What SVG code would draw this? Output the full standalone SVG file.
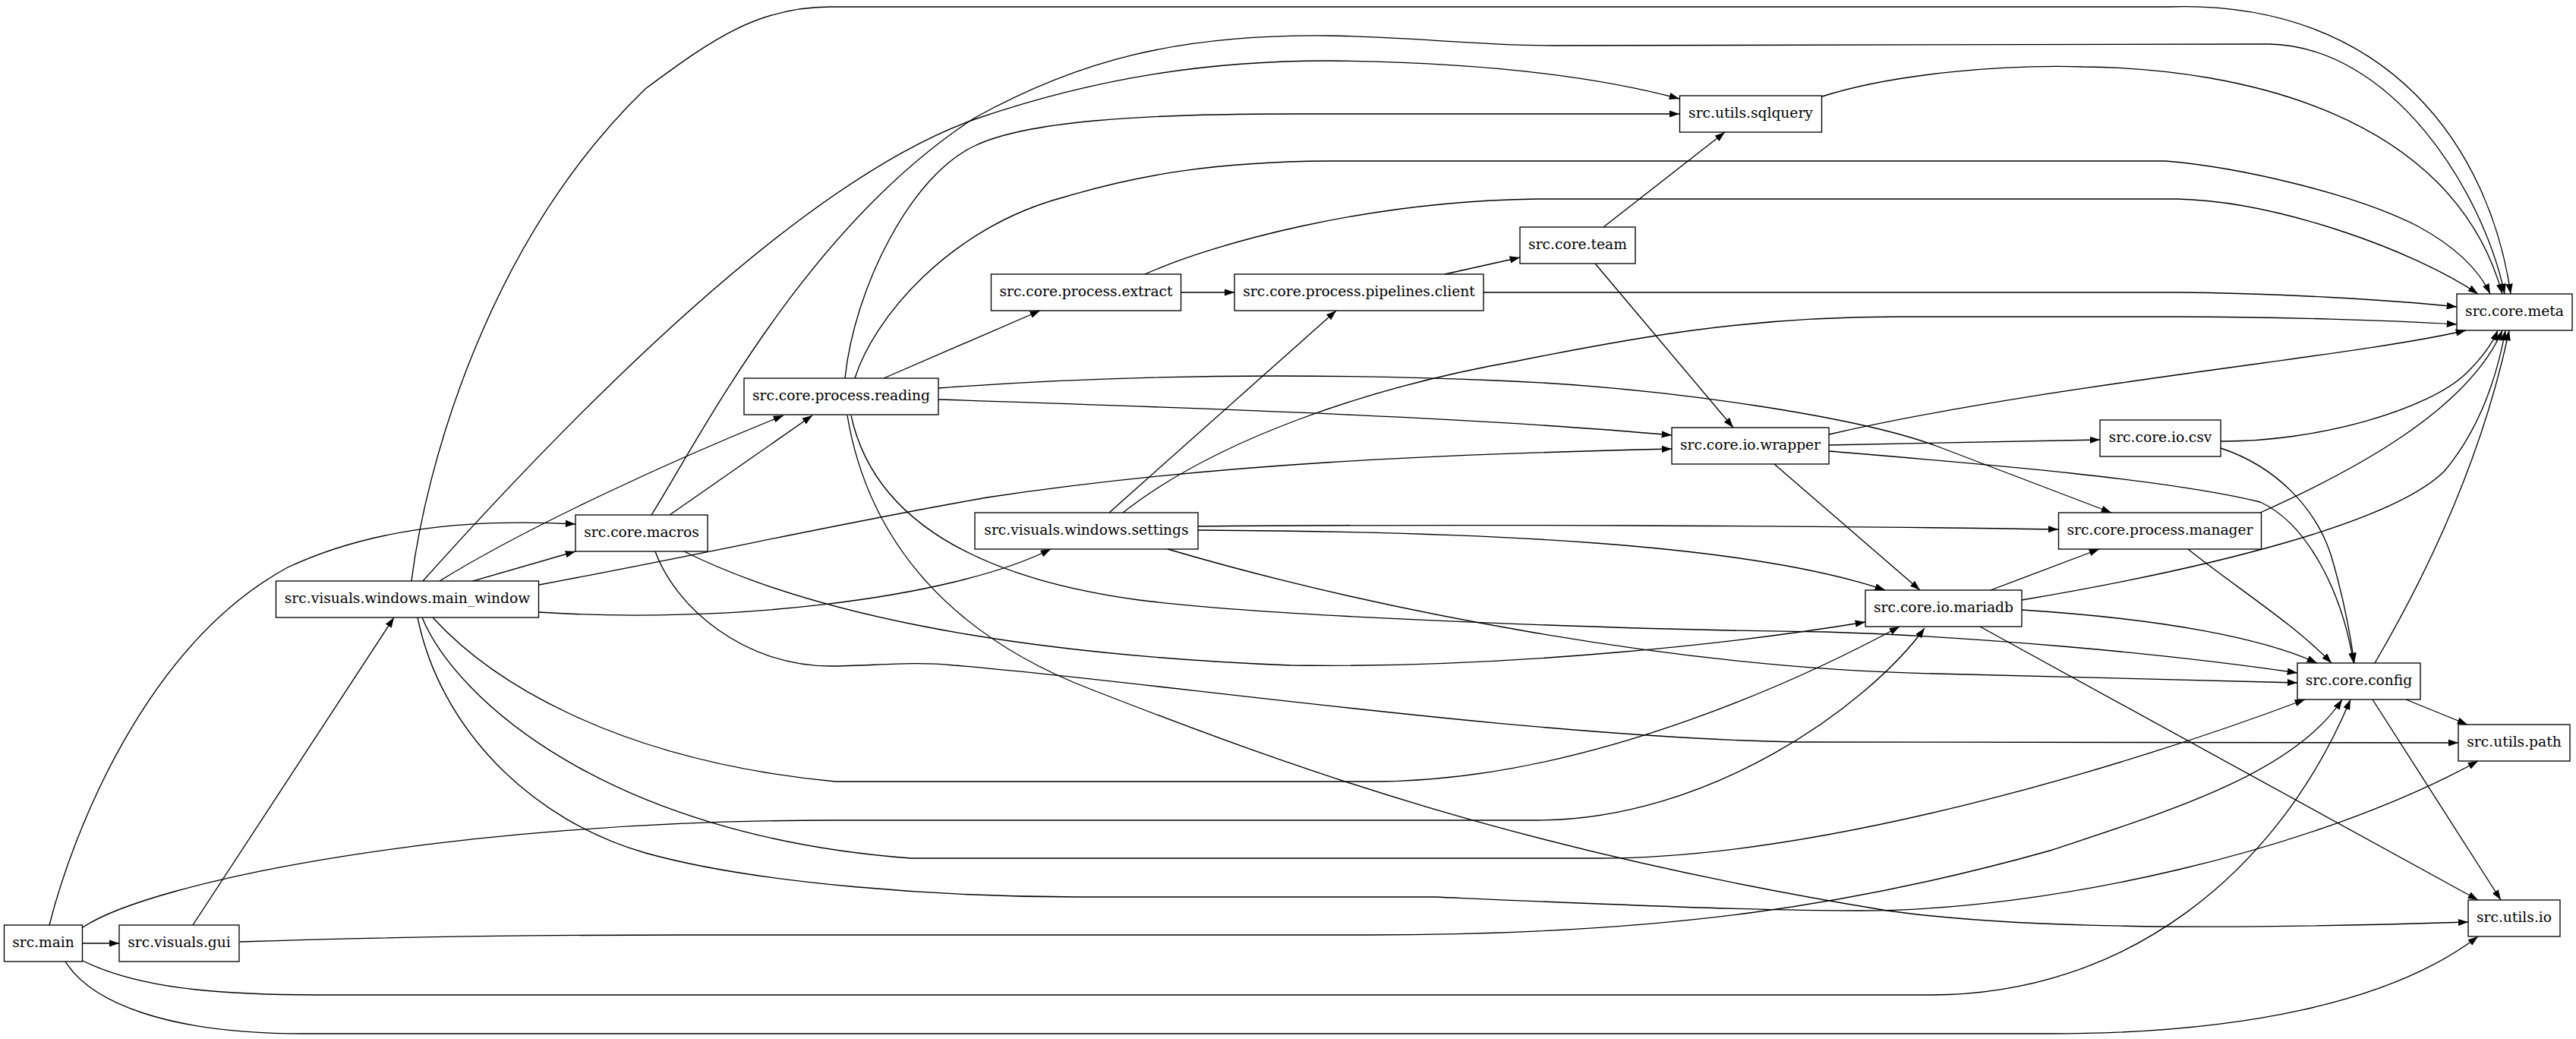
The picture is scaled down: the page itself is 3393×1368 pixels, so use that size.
<svg xmlns="http://www.w3.org/2000/svg" width="3393" height="1368" viewBox="0 0 3393 1368">
<style>
.e{fill:none;stroke:#000;stroke-width:1.33;marker-end:url(#ah)}
.n rect{fill:none;stroke:#000;stroke-width:1.33}
.n text{font-family:"DejaVu Serif",serif;font-size:18.67px;text-anchor:middle;fill:#000}
</style>
<defs>
<marker id="ah" markerWidth="14" markerHeight="10" refX="13.33" refY="4.67" orient="auto" markerUnits="userSpaceOnUse"><path d="M0,0 L13.33,4.67 L0,9.33 z" fill="#000"/></marker>
</defs>
<rect width="3393" height="1368" fill="#fff"/>
<g id="edges">
<path class="e" d="M108.5,1242 L157,1242"/>
<path class="e" d="M65,1218 C95,1100 190,850 379,747 C480,700 600,682 758,690"/>
<path class="e" d="M109,1221 C200,1160 600,1080 1100,1080 L2025,1080 C2250,1080 2460,930 2535,827"/>
<path class="e" d="M109,1265 C180,1300 280,1310 420,1310 L2543,1310 C2800,1310 3000,1150 3096,921"/>
<path class="e" d="M86,1266 C120,1320 220,1361 400,1361 L2700,1361 C2950,1361 3150,1320 3264,1233"/>
<path class="e" d="M254,1218 L519,813"/>
<path class="e" d="M316,1240 C500,1234 700,1231 900,1231 L1800,1231 C2200,1231 2450,1190 2700,1120 C2850,1070 3020,1020 3085,921"/>
<path class="e" d="M557,765 C750,550 1050,240 1284,157 C1450,100 1600,80 1750,80 C1950,82 2100,100 2212,130"/>
<path class="e" d="M542,765 C560,620 640,320 850,117 C940,50 1000,9 1094,9 L2857,9 C3150,0 3280,200 3307,387"/>
<path class="e" d="M858,678 C920,580 1060,300 1284,155 C1420,80 1550,45 1750,47 C1850,48 1950,60 2047,60 L2987,58 C3150,60 3270,250 3299,387"/>
<path class="e" d="M1113,498 C1125,380 1200,230 1284,192 C1350,160 1500,150 1700,150 L2212,150"/>
<path class="e" d="M1126,498 C1150,420 1250,300 1400,260 C1500,230 1600,213 1750,212 L2852,212 C2950,220 3100,255 3183,297 C3235,325 3265,355 3280,387"/>
<path class="e" d="M1164,498 L1370,409"/>
<path class="e" d="M1508,361 C1600,320 1800,265 2025,262 L2868,262 C3000,265 3180,330 3264,387"/>
<path class="e" d="M1555.5,385 L1626,385"/>
<path class="e" d="M1903,361 L2002,339"/>
<path class="e" d="M1954,385 L2868,385 C3000,386 3150,395 3236,404"/>
<path class="e" d="M2112,299 L2272,174"/>
<path class="e" d="M2101,347 L2283,563"/>
<path class="e" d="M2400,127 C2500,95 2650,85 2744,88 C2950,90 3230,150 3296,387"/>
<path class="e" d="M1236,511 C1450,495 1700,490 1971,501 C2200,510 2450,550 2550,587 L2781,675"/>
<path class="e" d="M1236,526 C1600,538 1950,550 2202,573"/>
<path class="e" d="M1116,547 C1145,720 1260,840 1438,908 C1700,1010 2000,1120 2486,1199 C2650,1222 2900,1225 3251,1214"/>
<path class="e" d="M1121,547 C1150,680 1280,760 1500,790 C1700,815 2200,830 2405,832 C2600,838 2850,860 3026,886"/>
<path class="e" d="M579,765 C700,690 900,600 1032,547"/>
<path class="e" d="M623,765 L758,726"/>
<path class="e" d="M710,770 C950,725 1100,690 1300,655 C1600,610 1900,598 2202,591"/>
<path class="e" d="M710,806 C950,822 1250,790 1384,723"/>
<path class="e" d="M570,813 C640,890 800,1000 1100,1029 L1808,1029 C2100,1029 2400,880 2502,825"/>
<path class="e" d="M556,813 C600,920 800,1100 1200,1130 L2106,1130 C2400,1130 2800,1010 3036,921"/>
<path class="e" d="M550,813 C580,960 700,1080 850,1123 C1000,1165 1250,1181 1419,1181 L1890,1181 C2100,1190 2300,1199 2450,1199 C2700,1199 3050,1120 3264,1002"/>
<path class="e" d="M1461,675 L1760,409"/>
<path class="e" d="M1479,675 C1600,580 1800,510 2000,475 C2150,445 2300,417 2500,417 L2868,417 C3000,417 3150,422 3236,427"/>
<path class="e" d="M1578,693 C1900,690 2400,692 2711,697"/>
<path class="e" d="M1578,698 C1950,700 2300,715 2483,777"/>
<path class="e" d="M1538,723 C1800,800 2200,880 2550,887 C2750,891 2900,895 3026,899"/>
<path class="e" d="M2409,572 C2700,505 3100,470 3248,435"/>
<path class="e" d="M2409,586 L2766,579"/>
<path class="e" d="M2409,594 C2600,610 2850,630 2977,661 C3040,690 3085,780 3100,873"/>
<path class="e" d="M2337,611 L2529,777"/>
<path class="e" d="M2925,581 C3050,582 3200,540 3250,490 C3270,470 3283,452 3290,435"/>
<path class="e" d="M2925,590 C3000,615 3050,670 3070,730 C3085,780 3095,830 3101,873"/>
<path class="e" d="M2977,675 C3100,620 3250,540 3296,435"/>
<path class="e" d="M2882,723 C2940,770 3020,820 3071,873"/>
<path class="e" d="M2622,777 L2765,723"/>
<path class="e" d="M2663,790 C2900,750 3150,690 3220,620 C3270,560 3290,490 3300,435"/>
<path class="e" d="M2663,803 C2850,815 2980,840 3052,873"/>
<path class="e" d="M2608,825 L3264,1185"/>
<path class="e" d="M3128,873 C3200,750 3270,600 3305,435"/>
<path class="e" d="M3169,921 L3250,954"/>
<path class="e" d="M3125,921 L3294,1185"/>
<path class="e" d="M882,678 L1070,547"/>
<path class="e" d="M863,726 C890,800 980,877 1094,877 C1150,877 1200,870 1256,876 C1500,895 2000,970 2367,977 L3238,978"/>
<path class="e" d="M901,726 C1050,800 1300,860 1700,876 C2000,880 2300,845 2457,819"/>
</g>
<g id="n-main" class="n"><rect x="5.5" y="1218" width="103" height="48"/><text x="57" y="1247">src.main</text></g>
<g id="n-gui" class="n"><rect x="157" y="1218" width="158" height="48"/><text x="236" y="1247">src.visuals.gui</text></g>
<g id="n-main_window" class="n"><rect x="363.5" y="765" width="346" height="48"/><text x="536.5" y="794">src.visuals.windows.main_window</text></g>
<g id="n-macros" class="n"><rect x="758" y="678" width="174" height="48"/><text x="845" y="707">src.core.macros</text></g>
<g id="n-reading" class="n"><rect x="980" y="498" width="256" height="48"/><text x="1108" y="527">src.core.process.reading</text></g>
<g id="n-extract" class="n"><rect x="1305.5" y="361" width="250" height="48"/><text x="1430.5" y="390">src.core.process.extract</text></g>
<g id="n-settings" class="n"><rect x="1284" y="675" width="294" height="48"/><text x="1431" y="704">src.visuals.windows.settings</text></g>
<g id="n-pipelines" class="n"><rect x="1626" y="361" width="328" height="48"/><text x="1790" y="390">src.core.process.pipelines.client</text></g>
<g id="n-team" class="n"><rect x="2002" y="299" width="152" height="48"/><text x="2078" y="328">src.core.team</text></g>
<g id="n-sqlquery" class="n"><rect x="2212.5" y="126" width="187" height="48"/><text x="2306" y="155">src.utils.sqlquery</text></g>
<g id="n-wrapper" class="n"><rect x="2202" y="563" width="207" height="48"/><text x="2305.5" y="592">src.core.io.wrapper</text></g>
<g id="n-csv" class="n"><rect x="2766" y="553" width="159" height="48"/><text x="2845.5" y="582">src.core.io.csv</text></g>
<g id="n-manager" class="n"><rect x="2711.5" y="675" width="267" height="48"/><text x="2845" y="704">src.core.process.manager</text></g>
<g id="n-mariadb" class="n"><rect x="2457" y="777" width="206" height="48"/><text x="2560" y="806">src.core.io.mariadb</text></g>
<g id="n-config" class="n"><rect x="3026" y="873" width="162" height="48"/><text x="3107" y="902">src.core.config</text></g>
<g id="n-meta" class="n"><rect x="3236" y="387" width="152" height="48"/><text x="3312" y="416">src.core.meta</text></g>
<g id="n-path" class="n"><rect x="3238" y="954" width="147" height="48"/><text x="3311.5" y="983">src.utils.path</text></g>
<g id="n-io" class="n"><rect x="3251" y="1185" width="121" height="48"/><text x="3311.5" y="1214">src.utils.io</text></g>
</svg>
